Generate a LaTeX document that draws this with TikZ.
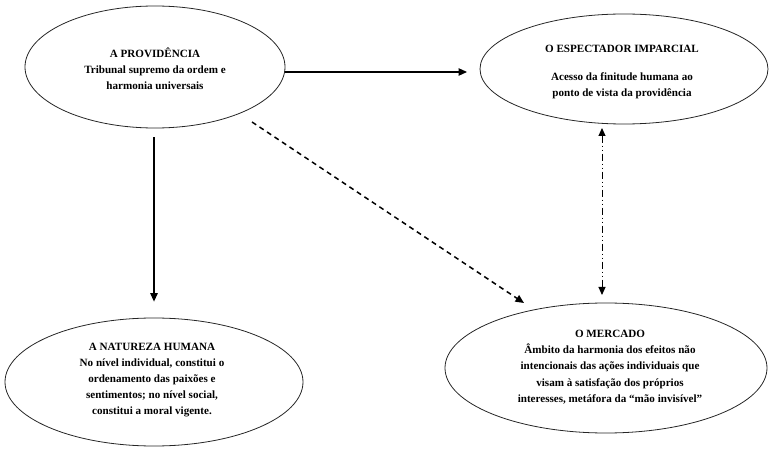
\documentclass[tikz,border=0pt]{standalone}
\usepackage{fontspec}
\setmainfont{Liberation Serif}
\usetikzlibrary{shapes.geometric,arrows.meta,calc}
\begin{document}
\begin{tikzpicture}[x=1pt,y=-1pt,
  ell/.style={draw=black!85,line width=0.8pt,ellipse,inner sep=0pt},
  txt/.style={align=center,font=\bfseries\fontsize{11.1}{16.2}\selectfont},
  arr/.style={line width=1.2pt,-{Triangle[length=8.5pt,width=7.5pt]}},
]
\useasboundingbox (0,0) rectangle (769,449);
\node[ell,minimum width=260pt,minimum height=122pt] (prov) at (155,67) {};
\node[ell,minimum width=288pt,minimum height=110pt] (espec) at (624,69) {};
\node[ell,minimum width=298pt,minimum height=128pt] (nat) at (154,382) {};
\node[ell,minimum width=322pt,minimum height=130pt] (merc) at (606,368) {};
\node[txt] (provt) at (155,69) {A PROVIDÊNCIA\\Tribunal supremo da ordem e\\harmonia universais};
\node[txt] (espect) at (622,72) {O ESPECTADOR IMPARCIAL\\[12pt]Acesso da finitude humana ao\\ponto de vista da providência};
\node[txt] (natt) at (152,380) {A NATUREZA HUMANA\\No nível individual, constitui o\\ordenamento das paixões e\\sentimentos; no nível social,\\constitui a moral vigente.};
\node[txt] (merct) at (610,367) {O MERCADO\\Âmbito da harmonia dos efeitos não\\intencionais das ações individuais que\\visam à satisfação dos próprios\\interesses, metáfora da “mão invisível”};
\draw[arr] ($(prov.center)+(130,5)$) -- ($(espec.center)+(-157,3)$);
\draw[arr] ($(prov.south)+(-1,9)$) -- ($(nat.north)+(0,-16)$);
\draw[arr,line width=1.5pt,dash pattern=on 5pt off 4pt] ($(prov.center)+(97,55)$) -- ($(merc.center)+(-82,-65)$);
\draw[line width=1pt,{Triangle[length=8pt,width=7pt]}-{Triangle[length=8pt,width=7pt]},dash pattern=on 7pt off 3pt on 1pt off 3pt on 1pt off 3pt] ($(espec.center)+(-22,59)$) -- ($(merc.center)+(-4,-73)$);
\end{tikzpicture}
\end{document}
